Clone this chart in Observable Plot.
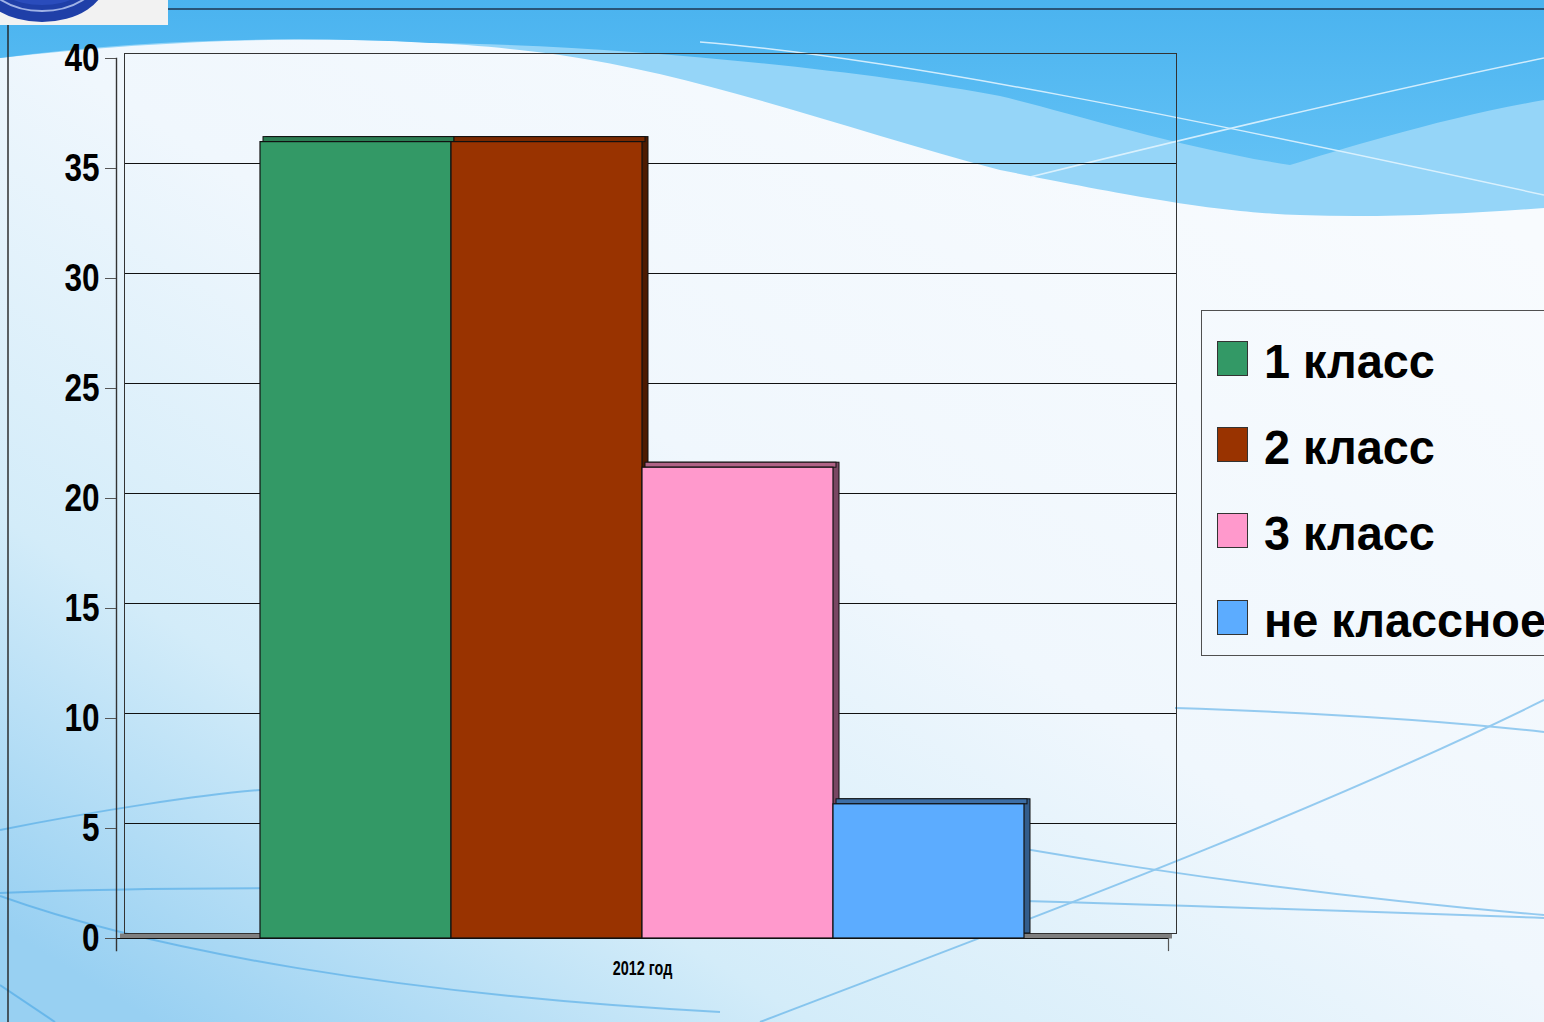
<!DOCTYPE html>
<html><head><meta charset="utf-8">
<script src="https://cdn.jsdelivr.net/npm/d3@7"></script>
<script src="https://cdn.jsdelivr.net/npm/@observablehq/plot@0.6"></script>
<style>
html,body{margin:0;padding:0;width:1544px;height:1022px;overflow:hidden;background:#f5fafe;}
#stage{position:relative;width:1544px;height:1022px;overflow:hidden;}
#bg,#chart{position:absolute;left:0;top:0;}
#chart svg{display:block;}
#legend{position:absolute;left:1201px;top:310px;width:420px;height:346px;border:1.5px solid #505050;box-sizing:border-box;}
.sw{position:absolute;left:14.5px;width:31px;height:35px;border:1px solid #333;box-sizing:border-box;}
.lb{position:absolute;left:61.5px;font:bold 49px "Liberation Sans",Arial,sans-serif;line-height:48px;white-space:nowrap;color:#000;transform:scaleX(0.955);transform-origin:0 50%;}
</style></head>
<body><div id="stage">
<svg id="bg" width="1544" height="1022" viewBox="0 0 1544 1022">
<defs>
<linearGradient id="g0" x1="0.9" y1="0.15" x2="0.1" y2="1">
<stop offset="0" stop-color="#f8fbfe"/>
<stop offset="0.45" stop-color="#f0f7fd"/>
<stop offset="0.75" stop-color="#d3ecf9"/>
<stop offset="1" stop-color="#98d0f2"/>
</linearGradient>
<linearGradient id="g1" x1="0" y1="0" x2="0" y2="1">
<stop offset="0" stop-color="#4ab3ef"/>
<stop offset="1" stop-color="#62c1f5"/>
</linearGradient>
</defs>
<rect width="1544" height="1022" fill="url(#g0)"/>
<path d="M0,0 H1544 V208 C1460,214 1380,218 1300,215 C1220,212 1150,200 1000,170 C850,130 700,75 560,55 C440,38 250,30 0,58 Z" fill="#95d5f8"/>
<path d="M0,0 H1544 V100 C1440,118 1340,150 1290,165 C1180,148 1060,110 1000,96 C860,70 620,45 430,43 C300,36 150,38 0,58 Z" fill="url(#g1)"/>
<g fill="none" stroke="#e6f6ff" stroke-width="1.5" opacity="0.85">
<path d="M700,42 C900,58 1200,120 1544,195"/>
<path d="M1030,177 C1200,135 1380,92 1544,58"/>
</g>
<g fill="none" stroke="#3a9fe4" stroke-width="2" opacity="0.5">
<path d="M0,893 C200,884 600,884 1544,918"/>
<path d="M0,896 C150,950 400,995 720,1012"/>
<path d="M760,1022 C1000,930 1300,820 1544,700"/>
<path d="M830,812 C1000,848 1250,890 1544,915"/>
<path d="M0,830 C100,810 200,795 260,790"/>
<path d="M1175,708 C1300,712 1420,718 1544,732"/>
<path d="M0,985 L55,1022"/>
</g>
<rect x="0" y="0" width="168" height="25" fill="#f2f2f2"/>
<ellipse cx="42" cy="-20" rx="64" ry="42" fill="#1f3fa8"/>
<ellipse cx="42" cy="-24" rx="56" ry="35" fill="none" stroke="#9fb2e6" stroke-width="2"/>
<ellipse cx="42" cy="-26" rx="52" ry="31" fill="#2a4cbc"/>
<line x1="168" y1="9" x2="1544" y2="9" stroke="#1d3550" stroke-width="1.6"/>
<line x1="8" y1="25" x2="8" y2="1022" stroke="#222" stroke-width="1.4"/>
</svg>
<div id="chart"></div>
<div id="legend"></div>
</div>
<script>
const categories = ["2012 год"];
const series = ["1 класс", "2 класс", "3 класс", "не классное"];
const values = [36.2, 36.2, 21.4, 6.1];
const frontColors = ["#339966", "#993300", "#ff99cc", "#5cacff"];
const topColors = ["#2b7d53", "#7a2900", "#b06386", "#3c6ea6"];
const sideColors = ["#1f5c3d", "#4d1a00", "#7a4763", "#335d8c"];
const yTicks = [0, 5, 10, 15, 20, 25, 30, 35, 40];

const FONT = '"Liberation Sans",Arial,sans-serif';
const data = series.map((s, i) => ({series: s, value: values[i], front: frontColors[i], top: topColors[i], side: sideColors[i]}));

const chart = Plot.plot({
  width: 1544, height: 1022,
  marginLeft: 116, marginRight: 376, marginTop: 58, marginBottom: 84,
  style: {background: "transparent", fontFamily: FONT, overflow: "visible"},
  x: {type: "band", domain: series, paddingInner: 0, paddingOuter: 0.75, axis: null},
  y: {domain: [0, 40], axis: null},
  color: {type: "identity"},
  marks: [
    Plot.ruleY([0], {dx: 4, dy: -2.5, stroke: "#7f7f7f", strokeWidth: 5}),
    Plot.ruleY(yTicks.slice(1), {dx: 8, dy: -5, stroke: "#111", strokeWidth: 1.1}),
    Plot.frame({dx: 8, dy: -5, stroke: "#333"}),
    Plot.ruleY([0], {stroke: "#111", strokeWidth: 1.2}),
    Plot.frame({anchor: "left", stroke: "#333", strokeWidth: 1.4, insetBottom: -12}),
    Plot.frame({anchor: "right", stroke: "#555", strokeWidth: 1.2, insetTop: 880, insetBottom: -12}),
    Plot.axisY({ticks: yTicks, tickSize: 11, tickPadding: 6, fontSize: 38, fontWeight: "bold", color: "black", stroke: "#555", label: null}),
    Plot.barY(data, {x: "series", y: "value", fill: "side", stroke: "#111", dx: 6, dy: -5}),
    Plot.barY(data, {x: "series", y1: "value", y2: "value", insetTop: -5, dx: 3, fill: "top", stroke: "#111"}),
    Plot.barY(data, {x: "series", y: "value", fill: "front", stroke: "#111", strokeWidth: 1.2}),
    Plot.text(categories, {frameAnchor: "bottom", dy: 36, text: d => d, fontSize: 20, fontWeight: "bold", fill: "black"})
  ]
});
document.getElementById("chart").appendChild(chart);

// condense the chart's texts like the narrow face of the original
function condense(sel, k) {
  chart.querySelectorAll(sel).forEach(t => {
    const w = t.getComputedTextLength();
    if (w > 0) {
      t.setAttribute("textLength", (w * k).toFixed(1));
      t.setAttribute("lengthAdjust", "spacingAndGlyphs");
    }
  });
}
condense('g[aria-label="y-axis tick label"] text', 0.83);
condense('g[aria-label="text"] text', 0.72);

const legend = document.getElementById("legend");
const rowTops = [29.5, 115.5, 201.5, 288.5];
series.forEach((s, i) => {
  const sw = document.createElement("div");
  sw.className = "sw";
  sw.style.top = rowTops[i] + "px";
  sw.style.background = frontColors[i];
  legend.appendChild(sw);
  const lb = document.createElement("div");
  lb.className = "lb";
  lb.style.top = (rowTops[i] - 4) + "px";
  lb.textContent = s;
  legend.appendChild(lb);
});
</script>
</body></html>
